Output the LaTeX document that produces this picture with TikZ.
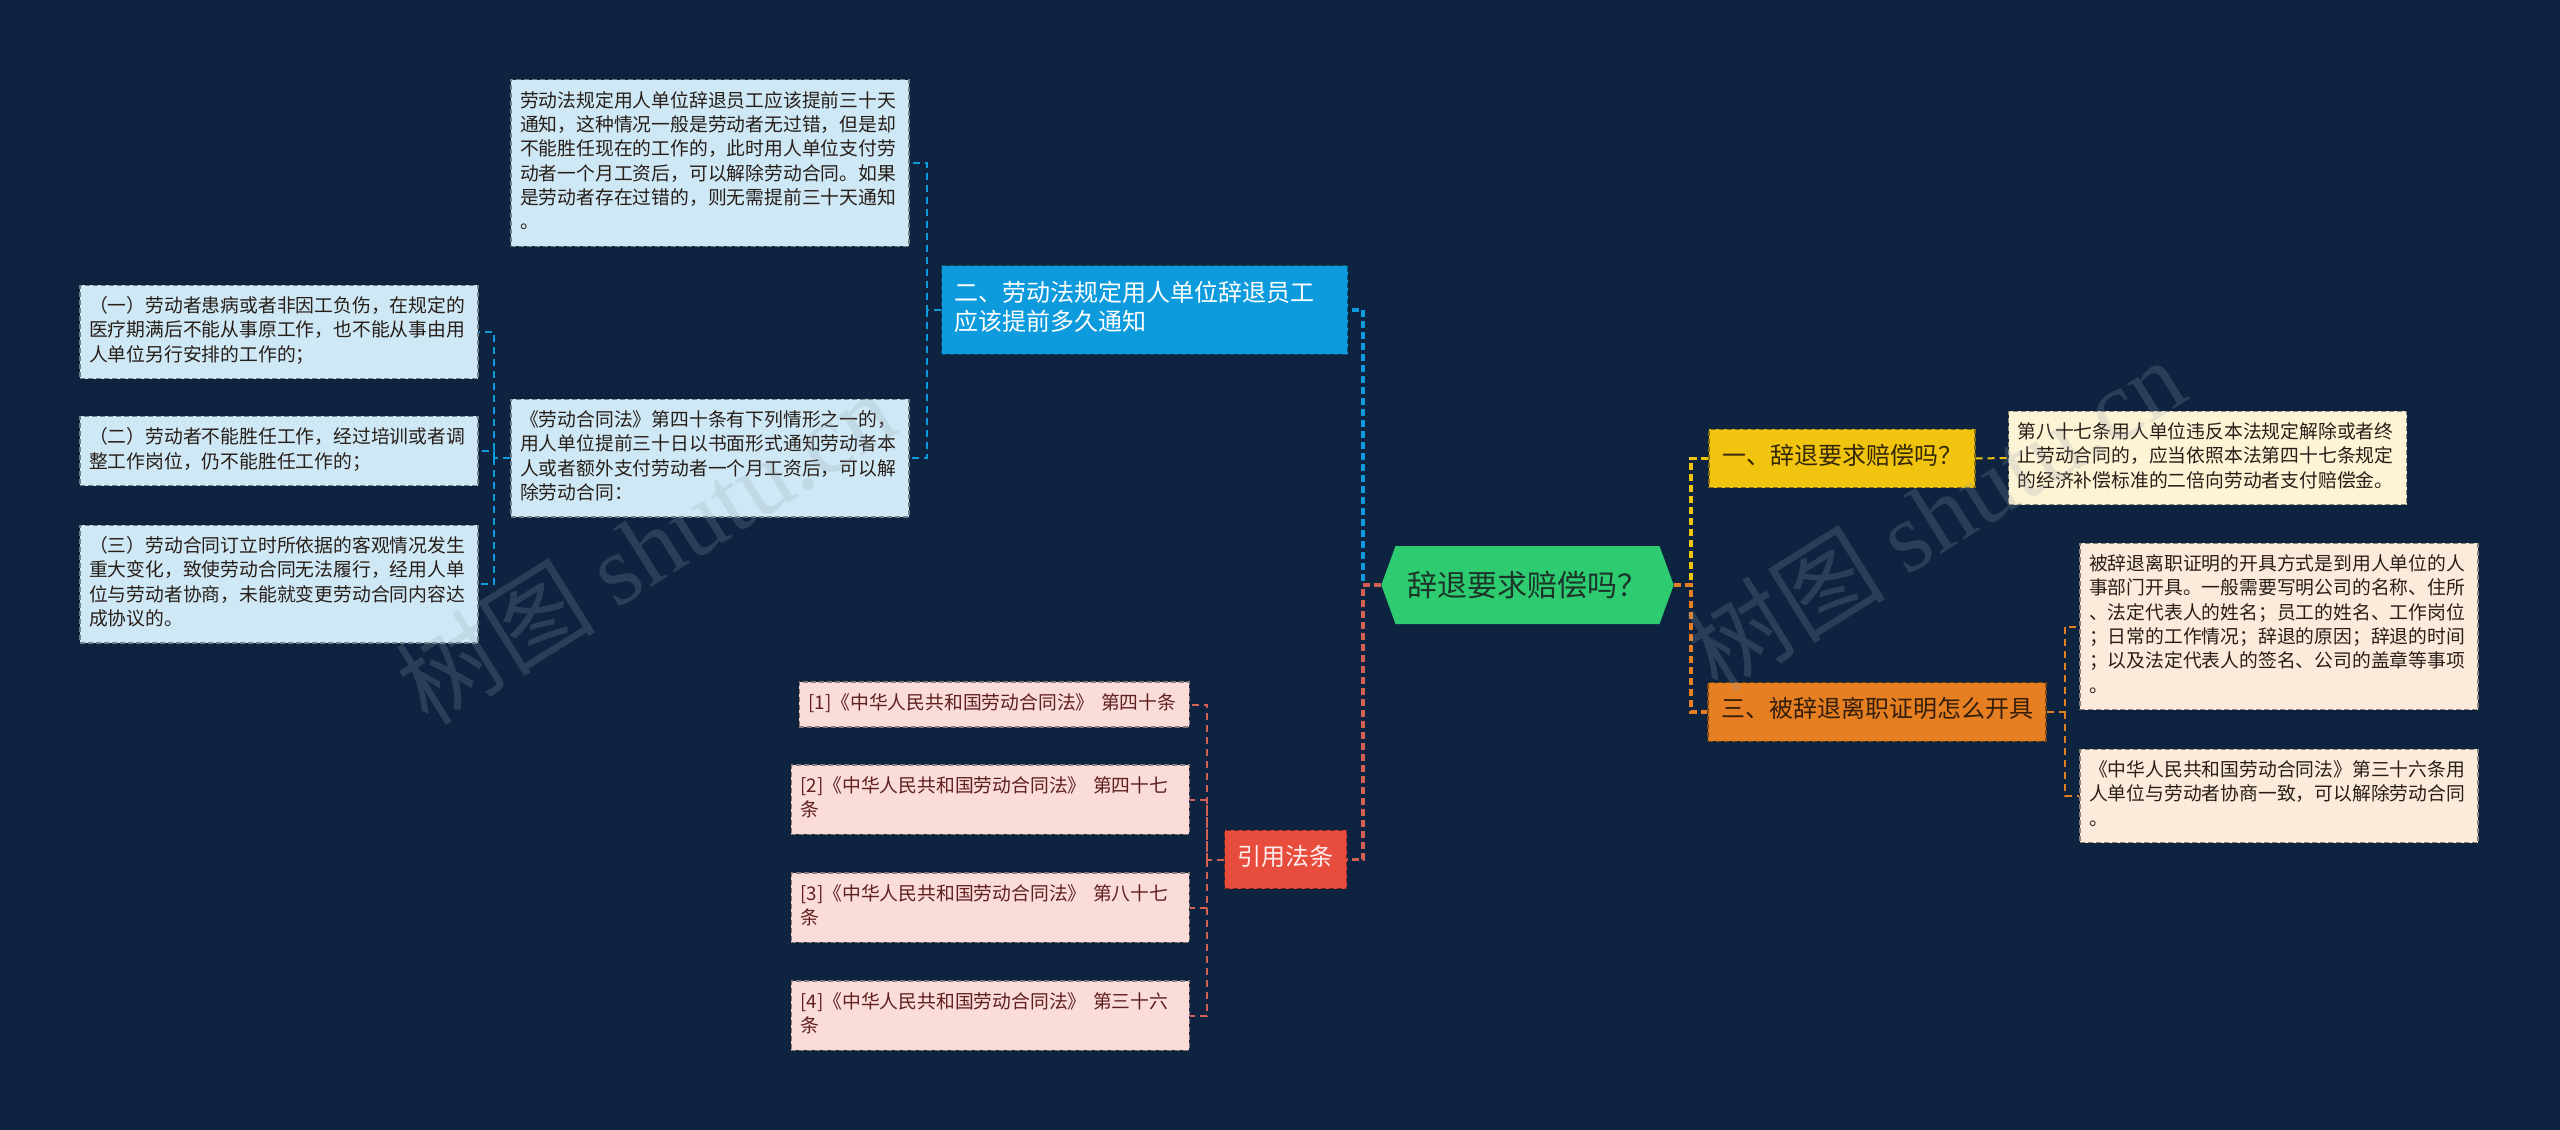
\documentclass[tikz,border=0pt]{standalone}
\usepackage{fontspec}
\setmainfont{Noto Sans CJK SC}
\newfontfamily\wmlatin{Liberation Serif}
\usepackage{tikz}
\usetikzlibrary{
    positioning,
    shapes.symbols
}
\definecolor{NavyBg}{RGB}{13,35,64}
\definecolor{RootGreen}{RGB}{46,204,113}
\definecolor{RootText}{RGB}{28,52,40}
\definecolor{BranchBlue}{RGB}{14,155,222}
\definecolor{LeafBlue}{RGB}{206,232,246}
\definecolor{BranchRed}{RGB}{231,76,60}
\definecolor{LinkRed}{RGB}{212,96,84}
\definecolor{LeafPink}{RGB}{250,220,216}
\definecolor{PinkText}{RGB}{96,32,32}
\definecolor{BranchYellow}{RGB}{241,196,15}
\definecolor{LeafCream}{RGB}{253,244,214}
\definecolor{BranchOrange}{RGB}{230,126,34}
\definecolor{LeafPeach}{RGB}{252,235,218}
\definecolor{LeafText}{RGB}{40,30,24}
\definecolor{WaterGray}{RGB}{150,160,172}

\begin{document}
\begin{tikzpicture}[
    x=1pt, y=-1pt,
    mapbox/.style={rectangle, draw=#1!55!black, line width=1.2pt,
        dash pattern=on 5pt off 3pt, align=left,
        execute at begin node=\strut, execute at end node=\strut},
    leafbox/.style={mapbox=#1, fill=#1, text=LeafText, text width=380pt,
        inner xsep=9pt, inner ysep=10.3pt, font=\fontsize{18.8}{24.3}\selectfont},
    topicbox/.style={mapbox=#1, fill=#1, inner xsep=13pt, inner ysep=15pt,
        font=\fontsize{24}{28}\selectfont},
    rootnode/.style={shape=signal, signal to=west and east, signal pointer angle=140,
        fill=RootGreen, text=RootText, minimum height=78pt, inner xsep=12pt,
        font=\fontsize{30}{36}\selectfont},
    mainlink/.style={draw=#1, line width=3.5pt, dash pattern=on 7pt off 4pt},
    sublink/.style={draw=#1, line width=2pt, dash pattern=on 7pt off 5pt},
    watermark/.style={rotate=32, text=WaterGray, opacity=0.22,
        font=\fontsize{100}{110}\selectfont}
]

% Background
\useasboundingbox (0,0) rectangle (2560,1130);
\fill[NavyBg] (0,0) rectangle (2560,1130);

% Root
\node[rootnode] (root) at (1527.5,585) {辞退要求赔偿吗？};

% Left: blue branch
\node[topicbox=BranchBlue, text=white, text width=380pt] (twohead) at (1144.5,310)
    {二、劳动法规定用人单位辞退员工\\应该提前多久通知};
\node[leafbox=LeafBlue] (notice) at (710,163)
    {劳动法规定用人单位辞退员工应该提前三十天\\通知，这种情况一般是劳动者无过错，但是却\\不能胜任现在的工作的，此时用人单位支付劳\\动者一个月工资后，可以解除劳动合同。如果\\是劳动者存在过错的，则无需提前三十天通知\\。};
\node[leafbox=LeafBlue] (art40) at (710,458)
    {《劳动合同法》第四十条有下列情形之一的，\\用人单位提前三十日以书面形式通知劳动者本\\人或者额外支付劳动者一个月工资后，可以解\\除劳动合同：};
\node[leafbox=LeafBlue] (case1) at (279,332)
    {（一）劳动者患病或者非因工负伤，在规定的\\医疗期满后不能从事原工作，也不能从事由用\\人单位另行安排的工作的；};
\node[leafbox=LeafBlue] (case2) at (279,451)
    {（二）劳动者不能胜任工作，经过培训或者调\\整工作岗位，仍不能胜任工作的；};
\node[leafbox=LeafBlue] (case3) at (279,584)
    {（三）劳动合同订立时所依据的客观情况发生\\重大变化，致使劳动合同无法履行，经用人单\\位与劳动者协商，未能就变更劳动合同内容达\\成协议的。};

% Left: red branch
\node[topicbox=BranchRed, text={rgb,255:red,255;green,236;blue,236}] (cite) at (1285.5,859.5) {引用法条};
\node[leafbox=LeafPink, text=PinkText, text width=372pt, anchor=east] (ref1) at (1190,704.5)
    {[1]《中华人民共和国劳动合同法》 第四十条};
\node[leafbox=LeafPink, text=PinkText, anchor=east] (ref2) at (1190,799.5)
    {[2]《中华人民共和国劳动合同法》 第四十七\\条};
\node[leafbox=LeafPink, text=PinkText, anchor=east] (ref3) at (1190,907.5)
    {[3]《中华人民共和国劳动合同法》 第八十七\\条};
\node[leafbox=LeafPink, text=PinkText, anchor=east] (ref4) at (1190,1015.5)
    {[4]《中华人民共和国劳动合同法》 第三十六\\条};

% Right: yellow and orange branches
\node[topicbox=BranchYellow, text={rgb,255:red,52;green,40;blue,4}] (q1) at (1842,458.5)
    {一、辞退要求赔偿吗？};
\node[leafbox=LeafCream] (q1a) at (2207.5,458)
    {第八十七条用人单位违反本法规定解除或者终\\止劳动合同的，应当依照本法第四十七条规定\\的经济补偿标准的二倍向劳动者支付赔偿金。};
\node[topicbox=BranchOrange, text={rgb,255:red,52;green,30;blue,10}] (q3) at (1877,712)
    {三、被辞退离职证明怎么开具};
\node[leafbox=LeafPeach] (q3a) at (2279,626.5)
    {被辞退离职证明的开具方式是到用人单位的人\\事部门开具。一般需要写明公司的名称、住所\\、法定代表人的姓名；员工的姓名、工作岗位\\；日常的工作情况；辞退的原因；辞退的时间\\；以及法定代表人的签名、公司的盖章等事项\\。};
\node[leafbox=LeafPeach] (q3b) at (2279,796)
    {《中华人民共和国劳动合同法》第三十六条用\\人单位与劳动者协商一致，可以解除劳动合同\\。};

% Junctions
\coordinate (jl) at (1363,585);
\coordinate (jr) at (1691,585);
\coordinate (jtwo) at (927,310);
\coordinate (jart) at (494,458);
\coordinate (jcite) at (1207,859.5);
\coordinate (jq3) at (2065,712);

% Root connectors
\draw[mainlink=BranchBlue] (root.west) -- (jl) |- (twohead.east);
\draw[mainlink=LinkRed] (root.west) -- (jl) |- (cite.east);
\draw[mainlink=BranchYellow] (root.east) -- (jr) |- (q1.west);
\draw[mainlink=BranchOrange] (root.east) -- (jr) |- (q3.west);

% Sub connectors
\draw[sublink=BranchBlue] (twohead.west) -- (jtwo) |- (notice.east);
\draw[sublink=BranchBlue] (jtwo) |- (art40.east);
\draw[sublink=BranchBlue] (art40.west) -- (jart) |- (case1.east);
\draw[sublink=BranchBlue] (jart) |- (case2.east);
\draw[sublink=BranchBlue] (jart) |- (case3.east);
\draw[sublink=LinkRed] (cite.west) -- (jcite) |- (ref1.east);
\draw[sublink=LinkRed] (jcite) |- (ref2.east);
\draw[sublink=LinkRed] (jcite) |- (ref3.east);
\draw[sublink=LinkRed] (jcite) |- (ref4.east);
\draw[sublink=BranchYellow] (q1.east) -- (q1a.west);
\draw[sublink=BranchOrange] (q3.east) -- (jq3) |- (q3a.west);
\draw[sublink=BranchOrange] (jq3) |- (q3b.west);

% Watermark
\node[watermark] (wmleft) at (645,547) {树图 {\wmlatin shutu.cn}};
\node[watermark] (wmright) at (1935,514) {树图 {\wmlatin shutu.cn}};

\end{tikzpicture}
\end{document}
